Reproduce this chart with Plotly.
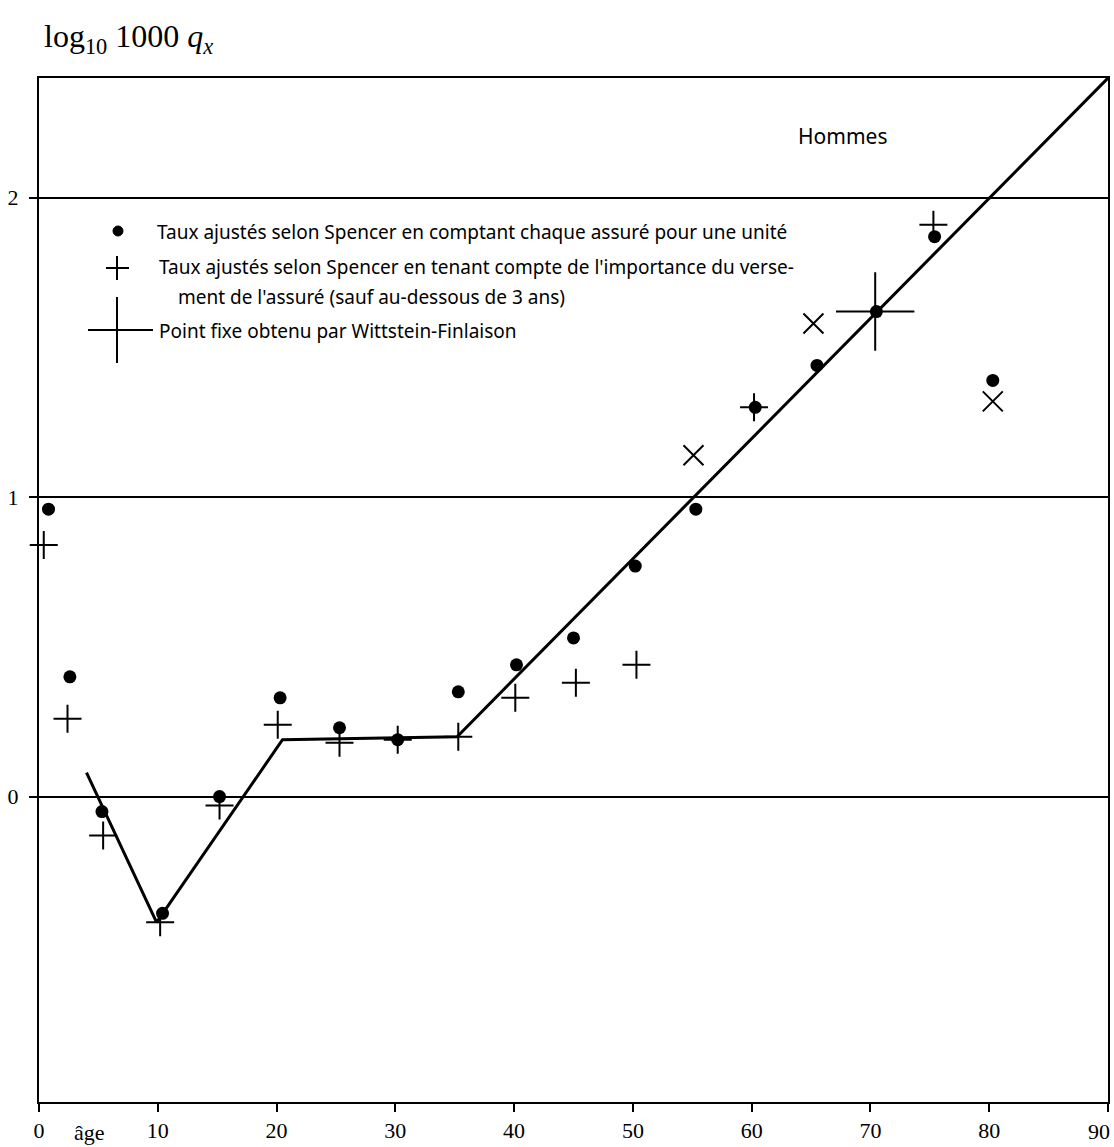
import plotly.graph_objects as go

# Ages and log10(1000 q_x) values
ages_unit = [0.8, 2.6, 5.3, 10.4, 15.2, 20.3, 25.3, 30.2, 35.3, 40.2, 45.0, 50.2,
             55.3, 60.3, 65.5, 70.5, 75.4, 80.3]
spencer_unit = [0.96, 0.40, -0.05, -0.39, 0.00, 0.33, 0.23, 0.19, 0.35, 0.44,
                0.53, 0.77, 0.96, 1.30, 1.44, 1.62, 1.87, 1.39]

ages_weighted = [0.4, 2.4, 5.4, 10.2, 15.2, 20.1, 25.3, 30.2, 35.3, 40.1, 45.2, 50.3,
                 55.1, 60.2, 65.2, 75.3, 80.3]
spencer_weighted = [0.84, 0.26, -0.13, -0.42, -0.03, 0.24, 0.18, 0.19, 0.20, 0.33,
                    0.38, 0.44, 1.14, 1.30, 1.58, 1.91, 1.32]

fixed_age = [70.4]
fixed_value = [1.62]

fit_ages = [4.0, 9.9, 20.5, 35.2, 90]
fit_values = [0.08, -0.42, 0.19, 0.20, 2.40]

x_ticks = [0, 10, 20, 30, 40, 50, 60, 70, 80, 90]
y_ticks = [0, 1, 2]

W, H = 1114, 1147
L, R, T, B = 39, 1108, 78, 1102

# slanted crosses for a few of the weighted points
weighted_symbols = ["x-thin" if round(a) in (55, 65, 80) else "cross-thin" for a in ages_weighted]

SERIF = "Liberation Serif, DejaVu Serif, serif"
SANS = "Noto Sans, Lato, sans-serif"


def px(xp):
    return (xp - L) / (R - L)


def py(yp):
    return (B - yp) / (B - T)


fig = go.Figure()

fig.add_trace(go.Scatter(
    x=fit_ages, y=fit_values, mode="lines",
    line=dict(color="black", width=3), showlegend=False, hoverinfo="skip"))

fig.add_trace(go.Scatter(
    x=ages_weighted, y=spencer_weighted, mode="markers",
    marker=dict(symbol=weighted_symbols, size=20, color="black",
                line=dict(color="black", width=2)),
    showlegend=False, cliponaxis=False))

fig.add_trace(go.Scatter(
    x=fixed_age, y=fixed_value, mode="markers",
    marker=dict(symbol="cross-thin", size=56, color="black",
                line=dict(color="black", width=2)),
    showlegend=False))

fig.add_trace(go.Scatter(
    x=ages_unit, y=spencer_unit, mode="markers",
    marker=dict(symbol="circle", size=13, color="black"),
    showlegend=False, cliponaxis=False))

shapes = []
# legend: dot
shapes.append(dict(type="circle", xref="paper", yref="paper",
                   x0=px(113), x1=px(123), y0=py(236), y1=py(226),
                   fillcolor="black", line=dict(color="black", width=1)))
# legend: small cross
shapes.append(dict(type="line", xref="paper", yref="paper",
                   x0=px(106), x1=px(129), y0=py(268), y1=py(268),
                   line=dict(color="black", width=2)))
shapes.append(dict(type="line", xref="paper", yref="paper",
                   x0=px(117), x1=px(117), y0=py(256), y1=py(280),
                   line=dict(color="black", width=2)))
# legend: large cross
shapes.append(dict(type="line", xref="paper", yref="paper",
                   x0=px(88), x1=px(153), y0=py(330), y1=py(330),
                   line=dict(color="black", width=2)))
shapes.append(dict(type="line", xref="paper", yref="paper",
                   x0=px(117), x1=px(117), y0=py(297), y1=py(363),
                   line=dict(color="black", width=2)))

legend_font = dict(family=SANS, size=19, color="black")
annotations = [
    dict(text="Taux ajustés selon Spencer en comptant chaque assuré pour une unité",
         x=px(155), y=py(232)),
    dict(text="Taux ajustés selon Spencer en tenant compte de l'importance du verse-",
         x=px(157), y=py(267)),
    dict(text="ment de l'assuré (sauf au-dessous de 3 ans)",
         x=px(176), y=py(297)),
    dict(text="Point fixe obtenu par Wittstein-Finlaison",
         x=px(157), y=py(331)),
]
for a in annotations:
    a.update(xref="paper", yref="paper", xanchor="left", yanchor="middle",
             showarrow=False, font=legend_font)

annotations.append(dict(text="Hommes", x=px(842), y=py(136), xref="paper", yref="paper",
                        xanchor="center", yanchor="middle", showarrow=False,
                        font=dict(family=SANS, size=21, color="black")))
annotations.append(dict(text="log<sub>10</sub> 1000 <i>q<sub>x</sub></i>",
                        x=px(42), y=py(38), xref="paper", yref="paper",
                        xanchor="left", yanchor="middle", showarrow=False,
                        font=dict(family=SERIF, size=32, color="black")))
annotations.append(dict(text="âge", x=px(89), y=py(1132), xref="paper", yref="paper",
                        xanchor="center", yanchor="middle", showarrow=False,
                        font=dict(family=SERIF, size=22, color="black")))

# the last tick label sits against the right edge, so it is right-aligned
tick_text = [str(v) for v in x_ticks]
last_label = tick_text[-1]
tick_text[-1] = ""
annotations.append(dict(text=last_label, x=px(1112), y=py(1131), xref="paper", yref="paper",
                        xanchor="right", yanchor="middle", showarrow=False,
                        font=dict(family=SERIF, size=22, color="black")))

fig.update_layout(
    width=W, height=H,
    margin=dict(l=L, r=W - R, t=T, b=H - B, autoexpand=False),
    paper_bgcolor="white", plot_bgcolor="white",
    shapes=shapes, annotations=annotations,
    xaxis=dict(range=[0, 90], tickvals=x_ticks, ticktext=tick_text,
               showgrid=False, zeroline=False, showline=True, linecolor="black",
               linewidth=2, mirror=True, ticks="outside", ticklen=8, tickwidth=1.5,
               tickcolor="black", ticklabeloverflow="allow", automargin=False,
               tickfont=dict(family=SERIF, size=22, color="black")),
    yaxis=dict(range=[-1.02, 2.40], tickvals=y_ticks, ticktext=[str(v) for v in y_ticks],
               showgrid=True, gridcolor="black", gridwidth=1.5, zeroline=False,
               showline=True, linecolor="black", linewidth=2, mirror=True,
               ticks="outside", ticklen=8, tickwidth=1.5, tickcolor="black",
               ticklabelstandoff=6, ticklabeloverflow="allow", automargin=False,
               tickfont=dict(family=SERIF, size=22, color="black")),
)

fig.write_html("out.html")
